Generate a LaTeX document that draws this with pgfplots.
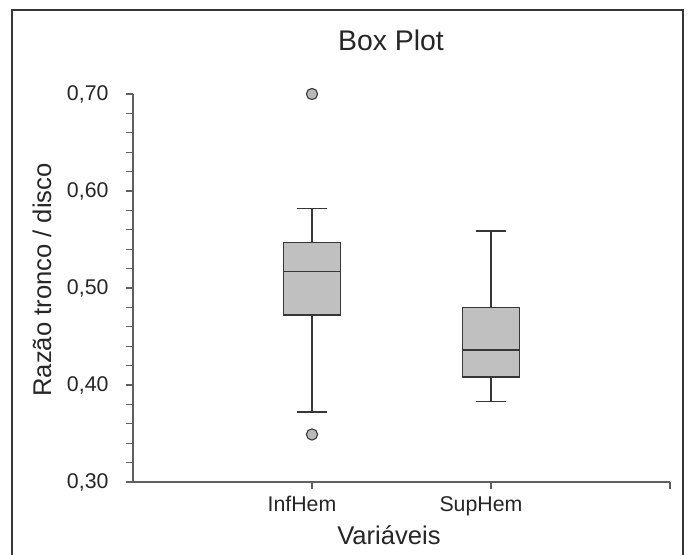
\documentclass[border=0pt]{standalone}
\usepackage{fontspec}
\setmainfont{Liberation Sans}
\usepackage{pgfplots}
\pgfplotsset{compat=1.18}
\usepgfplotslibrary{statistics}

\definecolor{axisgray}{RGB}{95,95,95}
\definecolor{boxline}{RGB}{55,55,55}
\definecolor{boxfill}{RGB}{192,192,192}
\definecolor{markfill}{RGB}{185,185,185}

\begin{document}
\begin{tikzpicture}
\begin{axis}[
    scale only axis, width=537bp, height=388bp,
    xmin=0, xmax=3, ymin=0.3, ymax=0.7,
    axis x line=bottom, axis y line=left,
    axis line style={-, draw=axisgray, line width=1.4bp},
    xtick={1,2,3}, xticklabels={InfHem,SupHem,{}},
    ytick={0.3,0.4,0.5,0.6,0.7},
    yticklabels={{0,30},{0,40},{0,50},{0,60},{0,70}},
    minor y tick num=4,
    tick align=outside,
    tick style={draw=axisgray, line width=1.1bp},
    major tick length=7bp, minor tick length=7bp,
    ticklabel style={font=\fontsize{21.4}{25}\selectfont, text=black!85},
    xticklabel style={xshift=-10bp, yshift=-4bp},
    yticklabel style={xshift=-14bp},
    title={Box Plot},
    title style={at={(axis description cs:0.4804,1.1237)}, anchor=center,
        font=\fontsize{28.5}{32}\selectfont, text=black!85},
    xlabel={Variáveis},
    xlabel style={at={(axis description cs:0.4767,-0.1366)}, anchor=center,
        font=\fontsize{25.7}{30}\selectfont, text=black!85},
    ylabel={Razão tronco / disco},
    ylabel style={at={(axis description cs:-0.1695,0.5206)}, anchor=center,
        font=\fontsize{25.7}{30}\selectfont, text=black!85},
    boxplot/draw direction=y,
    boxplot/box extend=0.32, boxplot/whisker extend=0.166,
]
% InfHem, with two outliers
\addplot+[boxplot prepared={draw position=1,
        lower whisker=0.372, lower quartile=0.472, median=0.517,
        upper quartile=0.547, upper whisker=0.582},
    solid, draw=boxline, fill=boxfill, line width=1.6bp,
    mark=*, mark size=5.6bp, mark options={solid, fill=markfill, draw=boxline, line width=1.1bp}]
    table[row sep=\\, y index=0] {0.700\\ 0.349\\};
% SupHem
\addplot+[boxplot prepared={draw position=2,
        lower whisker=0.383, lower quartile=0.408, median=0.436,
        upper quartile=0.480, upper whisker=0.559},
    solid, draw=boxline, fill=boxfill, line width=1.6bp, mark=none]
    coordinates {};
\end{axis}
\draw[draw=boxline, line width=1.5bp] (-121bp,-73bp) -- (-121bp,472bp) -- (550bp,472bp) -- (550bp,-73bp);
\pgfresetboundingbox
\path (-133bp,-73bp) rectangle (557bp,482bp);
\end{tikzpicture}
\end{document}
